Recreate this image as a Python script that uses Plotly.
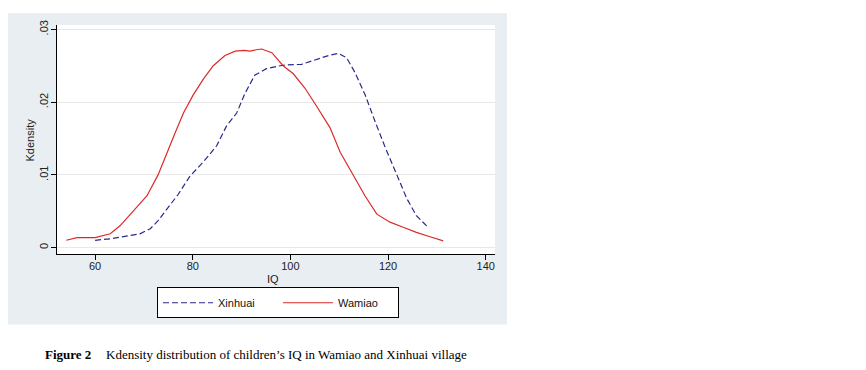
import plotly.graph_objects as go

# ---- data ----
iq_xinhuai = [60.0, 63.4, 67.2, 69.2, 71.3, 72.9, 74.7, 77.0, 79.4, 82.2, 84.9, 86.9,
              89.0, 90.7, 92.7, 95.1, 97.9, 99.2, 102.3, 105.0, 107.8, 109.8, 111.5,
              113.2, 115.3, 117.3, 119.4, 121.8, 123.8, 125.8, 127.9]
dens_xinhuai = [.00101, .00123, .00168, .0019, .0026, .0037, .0053, .0073, .0098, .0118,
                .0140, .0167, .0185, .0212, .0237, .0246, .0250, .0251, .0252, .0258,
                .0264, .0267, .0261, .0241, .0210, .0174, .0138, .0100, .0068, .0044, .0030]

iq_wamiao = [54.1, 56.3, 60.0, 63.1, 65.1, 67.8, 70.6, 72.9, 74.7, 76.4, 78.1, 80.1,
             82.2, 84.2, 86.6, 88.7, 90.5, 91.7, 93.0, 94.1, 96.2, 98.5, 100.6, 103.0,
             105.4, 108.1, 110.2, 112.9, 115.3, 117.7, 120.4, 123.1, 125.8, 128.6, 131.3]
dens_wamiao = [.00101, .00137, .00137, .0019, .0030, .0050, .0071, .0100, .0131, .0158,
               .0185, .0210, .0232, .0250, .0264, .0270, .0271, .0270, .0272, .0273,
               .0268, .0250, .0239, .0219, .0194, .0165, .0131, .0100, .0071, .0046,
               .0035, .0028, .0021, .0015, .00092]

x_ticks = [60, 80, 100, 120, 140]
y_ticks = [0, 0.01, 0.02, 0.03]
y_ticktext = ["0", ".01", ".02", ".03"]

series_names = ["Xinhuai", "Wamiao"]
caption_label = "Figure 2"
caption_text = "Kdensity distribution of children\u2019s IQ in Wamiao and Xinhuai village"

# ---- layout geometry (reference pixels; page body has an 8px default margin) ----
PAGE_W, PAGE_H = 866, 370
OFF = 8
X0, X1, Y0, Y1 = 57, 495, 20, 254   # plot area edges in page pixels
W, H = PAGE_W - OFF, PAGE_H - OFF
pw, ph = X1 - X0, Y1 - Y0


def px_x(p):
    return (p - X0) / pw


def px_y(p):
    return (Y1 - p) / ph


fig = go.Figure()
fig.add_trace(go.Scatter(x=iq_xinhuai, y=dens_xinhuai, mode="lines", name=series_names[0],
                         line=dict(color="#2a2a8c", width=1.2, dash="6px,3px")))
fig.add_trace(go.Scatter(x=iq_wamiao, y=dens_wamiao, mode="lines", name=series_names[1],
                         line=dict(color="#dc2a2a", width=1.2)))

font_sans = "Liberation Sans, Arial, sans-serif"
font_serif = "Liberation Serif, Times New Roman, serif"

fig.update_layout(
    width=W, height=H,
    margin=dict(l=X0 - OFF, r=PAGE_W - X1, t=Y0 - OFF, b=PAGE_H - Y1, pad=0),
    paper_bgcolor="white",
    plot_bgcolor="rgba(0,0,0,0)",
    font=dict(family=font_sans, size=11, color="#222"),
    showlegend=True,
    legend=dict(orientation="h", x=px_x(157), y=px_y(288), xanchor="left", yanchor="top",
                bgcolor="white", bordercolor="black", borderwidth=1,
                font=dict(size=11, color="#111"), itemwidth=50,
                entrywidth=55, entrywidthmode="pixels"),
    shapes=[
        dict(type="rect", xref="paper", yref="paper", layer="below",
             x0=px_x(8), x1=px_x(507), y0=px_y(326), y1=px_y(8),
             fillcolor="#e8eef2", line=dict(width=0)),
        dict(type="rect", xref="paper", yref="paper", layer="below",
             x0=0, x1=1, y0=0, y1=1, fillcolor="white", line=dict(width=0)),
    ],
    annotations=[
        dict(text="Kdensity", xref="paper", yref="paper", x=px_x(30), y=px_y(138),
             textangle=-90, showarrow=False, font=dict(size=11, color="#222"),
             xanchor="center", yanchor="middle"),
        dict(text="IQ", xref="paper", yref="paper", x=px_x(273), y=px_y(280),
             showarrow=False, font=dict(size=11, color="#222"),
             xanchor="center", yanchor="middle"),
        dict(text="<b>" + caption_label + "</b>", xref="paper", yref="paper",
             x=px_x(43), y=px_y(357), showarrow=False, xanchor="left", yanchor="middle",
             font=dict(family=font_serif, size=13, color="black")),
        dict(text=caption_text, xref="paper", yref="paper",
             x=px_x(104), y=px_y(357), showarrow=False, xanchor="left", yanchor="middle",
             font=dict(family=font_serif, size=13, color="black")),
    ],
)

fig.update_xaxes(range=[52.2, 141.9], tickvals=x_ticks, showgrid=False, zeroline=False,
                 showline=True, linecolor="black", linewidth=1,
                 ticks="outside", ticklen=5, tickcolor="black", tickwidth=1,
                 ticklabelstandoff=-3,
                 tickfont=dict(size=11, color="#222"))
fig.update_yaxes(range=[-0.000875, 0.0306], tickvals=y_ticks, ticktext=y_ticktext,
                 tickangle=-90, showgrid=True, gridcolor="#e8e8e8", gridwidth=1,
                 zeroline=False, showline=True, linecolor="black", linewidth=1,
                 ticks="outside", ticklen=5, tickcolor="black", tickwidth=1,
                 ticklabelstandoff=-1,
                 tickfont=dict(size=11, color="#222"))

fig.write_html("out.html")
